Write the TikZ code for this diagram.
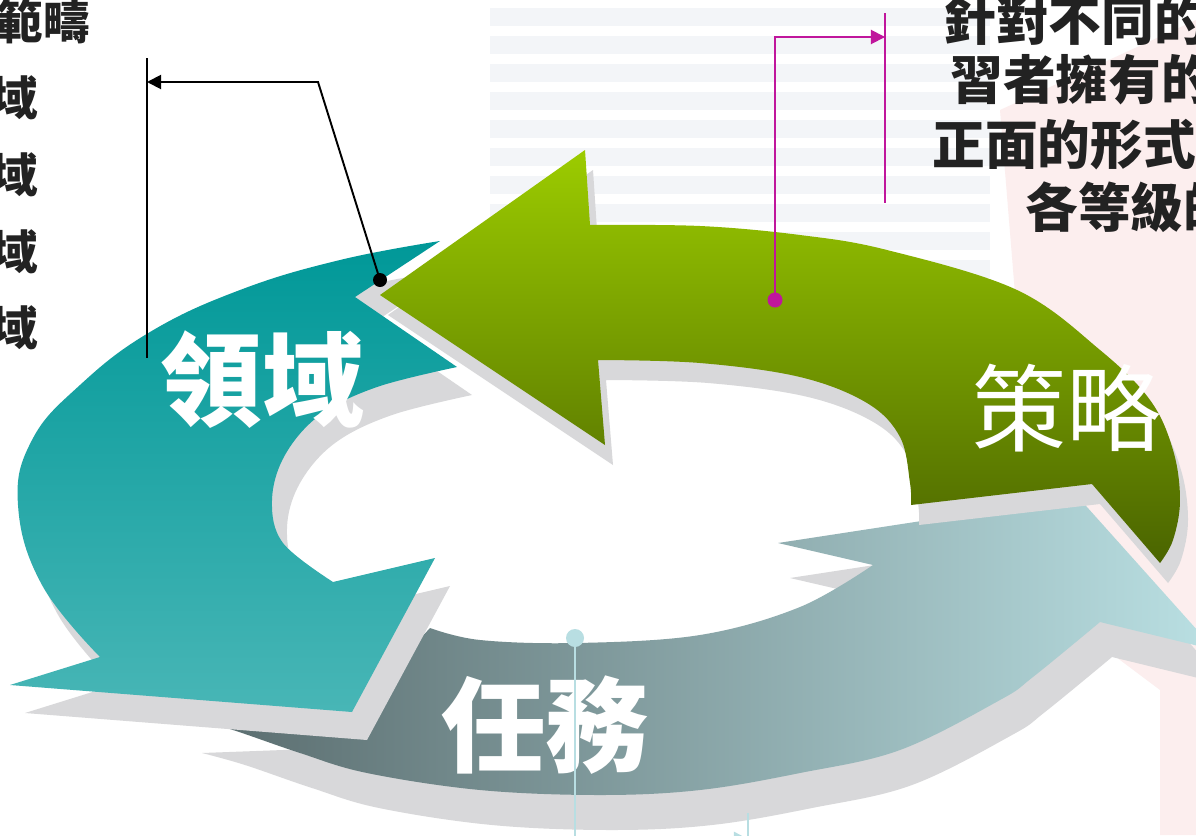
\documentclass[tikz,border=0pt]{standalone}
\usepackage{fontspec}
\newfontfamily\cjk{Noto Sans CJK TC}
\usetikzlibrary{arrows.meta}

\definecolor{leafhi}{RGB}{156,204,0}
\definecolor{leaflo}{RGB}{74,100,0}
\definecolor{tealhi}{RGB}{0,152,152}
\definecolor{teallo}{RGB}{72,182,182}
\definecolor{slatelo}{RGB}{88,106,108}
\definecolor{slatehi}{RGB}{186,224,227}
\definecolor{shadowgray}{RGB}{216,216,218}
\definecolor{pinline}{RGB}{192,22,156}
\definecolor{dotblue}{RGB}{184,222,226}
\definecolor{stripegray}{RGB}{243,245,248}
\definecolor{pinkwash}{RGB}{252,238,238}

% outlines of the three arrows, in pixel units
\newcommand\leafarrow{(380,295) -- (585,150) -- (590,225)
  -- plot[smooth,tension=0.6] coordinates {(590,225) (700,226) (800,235) (887,250)
     (1017,290) (1100,350) (1150,400) (1173,450) (1180,500) (1173,540) (1160,563)}
  -- (1092,484) -- (911,505)
  -- plot[smooth,tension=0.6] coordinates {(911,505) (910,483) (900,437) (867,403)
     (800,377) (700,363) (598,360)}
  -- (605,445) -- cycle}
\newcommand\tealarrow{(440,241) -- (355,297) -- (457,367)
  -- plot[smooth,tension=0.6] coordinates {(457,367) (377,387) (320,415) (285,455)
     (272,500) (283,543) (333,582)}
  -- (435,558) -- (352,712) -- (10,685) -- (100,657)
  -- plot[smooth,tension=0.7] coordinates {(100,657) (42,585) (18,505) (32,440)
     (80,385) (150,332) (240,290) (340,260) (440,241)}
  -- cycle}
\newcommand\slatearrow{(190,718) -- (352,712) -- (430,628)
  -- plot[smooth,tension=0.6] coordinates {(430,628) (480,640) (577,643) (700,635)
     (800,607) (873,565)}
  -- (778,543) -- (1078,497) -- (1215,650) -- (1100,622)
  -- plot[smooth,tension=0.6] coordinates {(1100,622) (1033,677) (1000,700) (900,750)
     (800,773) (700,790) (600,795) (480,790) (367,773) (300,753) (233,730) (190,718)}
  -- cycle}

\begin{document}
\begin{tikzpicture}[x=0.02cm,y=-0.02cm,
    label node/.style={text=white,inner sep=0pt},
    note node/.style={text={rgb,255:red,34;green,34;blue,34},inner sep=0pt,
                      font=\cjk\bfseries\fontsize{26.5}{26.5}\selectfont},
    side node/.style={text={rgb,255:red,34;green,34;blue,34},inner sep=0pt,
                      font=\cjk\bfseries\fontsize{30}{30}\selectfont},
    shadow/.style={fill=shadowgray},
    callout/.style={line width=1.1pt,-{Triangle[length=8pt,width=8pt]}}]
  \useasboundingbox (0,0) rectangle (1196,835);
  \fill[white] (0,0) rectangle (1196,835);

  % faint backdrop
  \foreach \y in {8,36,...,330}
    \fill[stripegray] (490,\y) rectangle (990,\y+18);
  \fill[pinkwash] (1000,110) -- (1196,20) -- (1196,835) -- (1160,835)
    -- (1160,690) -- (1040,600) -- cycle;

  % task arrow
  \fill[shadow,shift={(12,35)}] \slatearrow;
  \shade[left color=slatelo,right color=slatehi] \slatearrow;
  % domain arrow
  \fill[shadow,shift={(15,28)}] \tealarrow;
  \shade[top color=tealhi,bottom color=teallo] \tealarrow;
  % strategy arrow
  \fill[shadow,shift={(8,20)}] \leafarrow;
  \shade[top color=leafhi,bottom color=leaflo] \leafarrow;

  \node[label node,font=\cjk\bfseries\fontsize{58}{58}\selectfont] (domain) at (262,380) {領域};
  \node[label node,font=\cjk\fontsize{54}{54}\selectfont] (strategy) at (1066,408) {策略};
  \node[label node,font=\cjk\bfseries\fontsize{59}{59}\selectfont] (task) at (545,725) {任務};

  % left notes
  \node[note node,anchor=east] (scope) at (90,22) {範疇};
  \foreach \i/\y in {1/98,2/175,3/252,4/328}
    \node[note node,anchor=east] (field\i) at (38,\y) {域};

  % right notes
  \node[side node,anchor=west] (aim1) at (943,20) {針對不同的};
  \node[side node,anchor=west] (aim2) at (950,80) {習者擁有的};
  \node[side node,anchor=west] (aim3) at (932,145) {正面的形式};
  \node[side node,anchor=west] (aim4) at (1025,207) {各等級的};

  % callouts
  \coordinate (domdot) at (380,280);
  \coordinate (dombend) at (318,82);
  \coordinate (dombar) at (147,82);
  \draw[line width=1.1pt] (147,58) -- (147,358);
  \draw[callout] (domdot) -- (dombend) -- (dombar);
  \fill (domdot) circle (7);

  \coordinate (stratdot) at (775,300);
  \coordinate (stratbend) at (775,37);
  \coordinate (stratbar) at (885,37);
  \draw[pinline,line width=1.1pt] (885,13) -- (885,203);
  \draw[callout,pinline] (stratdot) -- (stratbend) -- (stratbar);
  \fill[pinline] (stratdot) circle (7.5);

  \coordinate (taskdot) at (575,638);
  \coordinate (taskbend) at (575,839);
  \coordinate (taskbar) at (748,839);
  \draw[dotblue,line width=1.4pt] (748,813) -- (748,900);
  \draw[callout,dotblue,line width=1.4pt] (taskdot) -- (taskbend) -- (taskbar);
  \fill[dotblue] (taskdot) circle (9);
\end{tikzpicture}
\end{document}
